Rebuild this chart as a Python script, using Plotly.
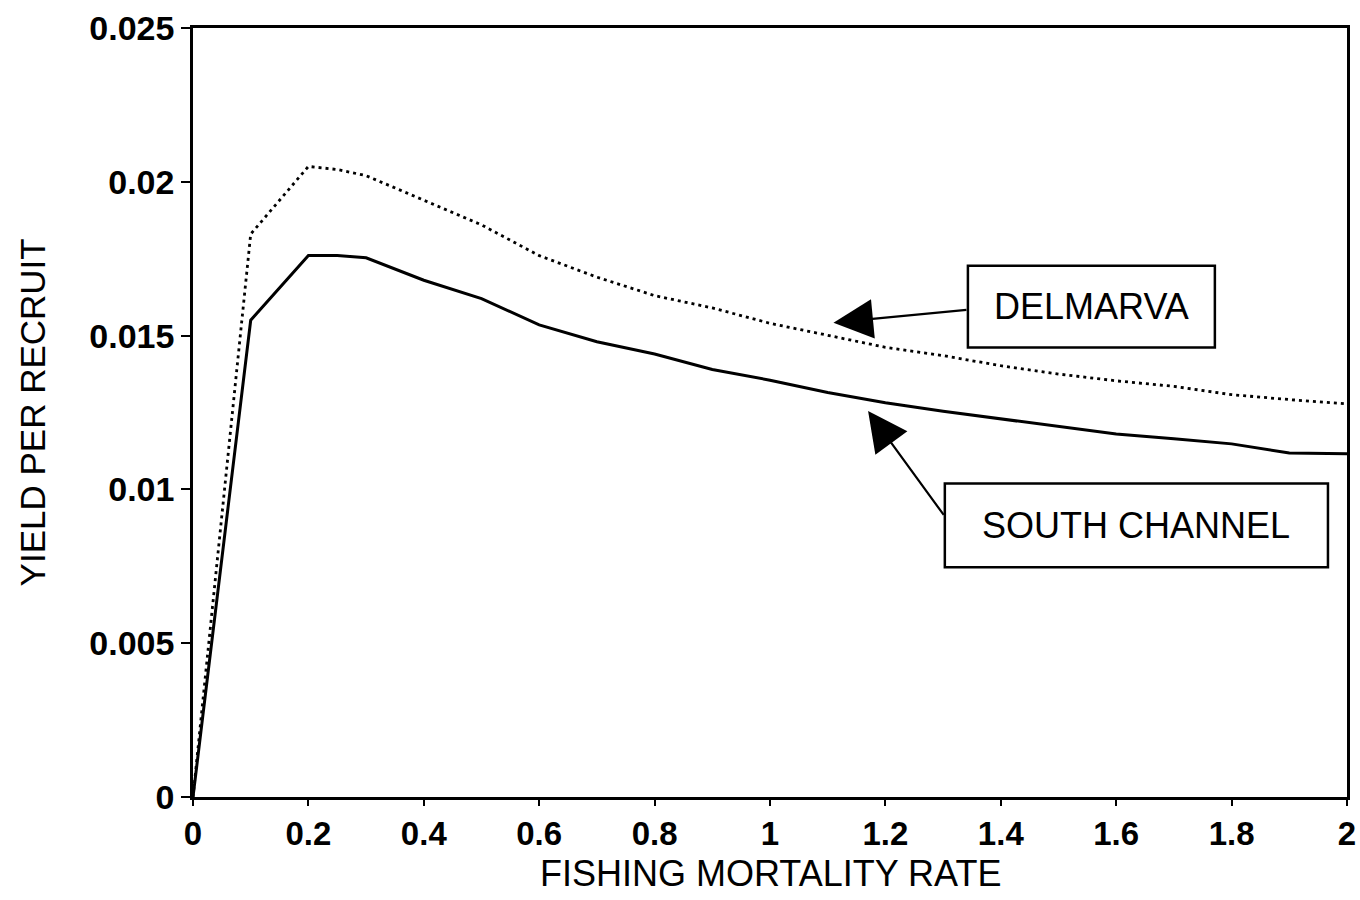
import plotly.graph_objects as go

# Fishing mortality rate (F) and yield per recruit for two shellfish areas
fishing_mortality = [0.0, 0.1, 0.2, 0.25, 0.3, 0.4, 0.5, 0.6, 0.7, 0.8, 0.9, 1.0,
                     1.1, 1.2, 1.3, 1.4, 1.5, 1.6, 1.7, 1.8, 1.9, 2.0]
south_channel = [0.0, 0.0155, 0.0176, 0.0176, 0.01753, 0.0168, 0.0162, 0.01535,
                 0.0148, 0.0144, 0.0139, 0.01355, 0.01315, 0.01282, 0.01254,
                 0.0123, 0.01205, 0.0118, 0.01165, 0.01148, 0.01118, 0.01116]
delmarva = [0.0, 0.0183, 0.0205, 0.0204, 0.0202, 0.0194, 0.0186, 0.0176,
            0.0169, 0.0163, 0.0159, 0.0154, 0.0150, 0.01462, 0.01435,
            0.01402, 0.01375, 0.01353, 0.01335, 0.01308, 0.01292, 0.01278]

x_ticks = [0, 0.2, 0.4, 0.6, 0.8, 1.0, 1.2, 1.4, 1.6, 1.8, 2.0]
x_tick_labels = ["0", "0.2", "0.4", "0.6", "0.8", "1", "1.2", "1.4", "1.6", "1.8", "2"]
y_ticks = [0, 0.005, 0.01, 0.015, 0.02, 0.025]
y_tick_labels = ["0", "0.005", "0.01", "0.015", "0.02", "0.025"]

FONT = "Liberation Sans, Arial, sans-serif"

fig = go.Figure()
fig.add_trace(go.Scatter(
    x=fishing_mortality, y=delmarva, mode="lines", name="DELMARVA",
    line=dict(color="black", width=2.8, dash="3px,4px"),
))
fig.add_trace(go.Scatter(
    x=fishing_mortality, y=south_channel, mode="lines", name="SOUTH CHANNEL",
    line=dict(color="black", width=3),
))

# Labelled boxes with arrows pointing at each curve
labels = [
    dict(text="DELMARVA", box=(1.343, 0.01461, 1.771, 0.01727),
         tip=(1.110, 0.01542), tail=(1.343, 0.01584)),
    dict(text="SOUTH CHANNEL", box=(1.303, 0.00747, 1.967, 0.01019),
         tip=(1.170, 0.01255), tail=(1.303, 0.00912)),
]
for lab in labels:
    x0, y0, x1, y1 = lab["box"]
    fig.add_shape(type="rect", x0=x0, y0=y0, x1=x1, y1=y1, xref="x", yref="y",
                  line=dict(color="black", width=2.5), fillcolor="white", layer="above")
    fig.add_annotation(x=(x0 + x1) / 2, y=(y0 + y1) / 2, text=lab["text"], showarrow=False,
                       font=dict(family=FONT, size=36, color="black"))
    fig.add_annotation(x=lab["tip"][0], y=lab["tip"][1], ax=lab["tail"][0], ay=lab["tail"][1],
                       xref="x", yref="y", axref="x", ayref="y", text="",
                       showarrow=True, arrowhead=2, arrowsize=3.6, arrowwidth=2.2,
                       arrowcolor="black", standoff=0, startstandoff=0)

# Axis titles placed as paper-anchored text
fig.add_annotation(text="FISHING MORTALITY RATE", xref="paper", yref="paper",
                   x=0.5, y=-0.099, xanchor="center", yanchor="middle", showarrow=False,
                   font=dict(family=FONT, size=36, color="black"))
fig.add_annotation(text="YIELD PER RECRUIT", xref="paper", yref="paper",
                   x=-0.1387, y=0.5, xanchor="center", yanchor="middle", showarrow=False,
                   textangle=-90, font=dict(family=FONT, size=35, color="black"))

fig.update_layout(
    width=1360, height=900,
    margin=dict(l=193, r=13, t=28, b=103),
    paper_bgcolor="white", plot_bgcolor="white",
    showlegend=False,
    font=dict(family=FONT, color="black"),
)
fig.update_xaxes(
    range=[0, 2], tickvals=x_ticks, ticktext=x_tick_labels, automargin=False,
    showgrid=False, zeroline=False,
    showline=True, linecolor="black", linewidth=2.5, mirror=True,
    ticks="outside", ticklen=6, tickwidth=2, tickcolor="black",
    tickfont=dict(family=FONT, size=33, color="black", weight="bold"),
)
fig.update_yaxes(
    range=[0, 0.025], tickvals=y_ticks, ticktext=y_tick_labels, automargin=False,
    showgrid=False, zeroline=False,
    showline=True, linecolor="black", linewidth=2.5, mirror=True,
    ticks="outside", ticklen=9, tickwidth=2, tickcolor="black",
    tickfont=dict(family=FONT, size=34, color="black", weight="bold"),
)

fig.write_html("out.html")
